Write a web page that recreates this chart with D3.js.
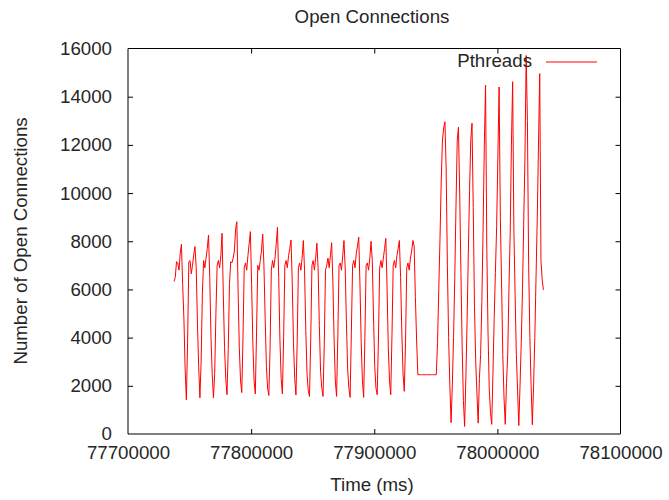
<!DOCTYPE html>
<html>
<head>
<meta charset="utf-8">
<script src="https://cdn.jsdelivr.net/npm/d3@7"></script>
<style>
  html, body { margin: 0; padding: 0; background: #fff; }
  svg text { font-family: "Liberation Sans", Arial, sans-serif; fill: #262626; }
</style>
</head>
<body>
<svg id="chart" width="669" height="500"></svg>
<script>
// Open connections sampled once per second (ms timestamps)
const sampleStart = 77737400;
const sampleStepMs = 1000;
const openConnections = [
  6330, 6500, 7150, 7100, 6800, 7500, 7870, 6200, 4800, 2700, 1420,
  3800, 7150, 7200, 6650, 7000, 7450, 7780, 6900, 4600, 2800, 1500,
  3000, 5800, 7200, 6900, 7300, 7700, 8260, 6500, 4000, 2500, 1500,
  2500, 5000, 7000, 7200, 6900, 7400, 8330, 5800, 3600, 2300, 1630,
  3500, 6200, 7150, 7100, 7300, 7600, 8500, 8810, 6000, 3600, 2200, 1720,
  4000, 6900, 7100, 6800, 7400, 7900, 8400, 6200, 3800, 2200, 1660,
  4200, 7000, 6800, 7200, 7600, 8300, 7000, 4800, 2800, 1900, 1600,
  3600, 6800, 7200, 6900, 7300, 7900, 8580, 6500, 3900, 2300, 1660,
  4000, 7000, 7200, 6900, 7400, 7700, 8050, 6300, 3800, 2300, 1620,
  3800, 6900, 7100, 6800, 7300, 8030, 6800, 4300, 2500, 1800, 1560,
  3900, 7000, 7200, 6800, 7300, 7920, 6900, 4500, 2600, 1900, 1560,
  3700, 6800, 7000, 7300, 6900, 7400, 7940, 6300, 3900, 2200, 1560,
  4000, 7000, 7100, 6800, 7400, 8030, 6900, 4600, 2700, 1900, 1520,
  4200, 7000, 7200, 6900, 7500, 7800, 8170, 6200, 3800, 2200, 1520,
  4000, 7000, 7100, 6800, 7300, 8000, 7200, 4900, 2800, 1900, 1630,
  3900, 6900, 7200, 6900, 7300, 7700, 8120, 6100, 3600, 2200, 1630,
  4100, 7000, 7200, 6900, 7400, 7700, 8030, 6500, 4200, 2500, 1770,
  3800, 6900, 7100, 6800, 7300, 7600, 8030, 7800, 5700, 3900, 2460,
  2460, 2460, 2460, 2460, 2460, 2460, 2460, 2460, 2460, 2460, 2460, 2460, 2460, 2460, 2460,
  3800, 6000, 8100, 10500, 12200, 12700, 12960, 11000, 7000, 4000, 2000, 470,
  2000, 4000, 6500, 9500, 12200, 12730, 10000, 6700, 3600, 1400, 315,
  2300, 4700, 7500, 10100, 12200, 12900, 9400, 5300, 3000, 1700, 450,
  2300, 3300, 5500, 8500, 12000, 14480, 7800, 4200, 1900, 900, 400,
  2500, 4800, 6700, 8600, 11500, 14400, 9000, 6270, 3300, 1500, 400,
  2100, 3300, 6000, 8300, 12000, 14620, 8500, 5800, 3300, 1800, 350,
  2000, 3800, 6000, 8800, 11500, 15710, 13000, 7000, 4000, 2000, 385,
  2000, 4000, 6500, 9000, 12000, 14960, 7200, 6400, 5980
];

const xTicks = [77700000, 77800000, 77900000, 78000000, 78100000];
const yTicks = [0, 2000, 4000, 6000, 8000, 10000, 12000, 14000, 16000];
const seriesName = "Pthreads";
const chartTitle = "Open Connections";
const xLabel = "Time (ms)";
const yLabel = "Number of Open Connections";

const svg = d3.select("#chart");
const plotLeft = 128, plotRight = 620.5, plotTop = 48.5, plotBottom = 434;
const fontSize = 18.7;

const x = d3.scaleLinear().domain([77700000, 78100000]).range([plotLeft, plotRight]);
const y = d3.scaleLinear().domain([0, 16000]).range([plotBottom, plotTop]);

const points = openConnections.map((v, i) => ({ t: sampleStart + i * sampleStepMs, v }));

// frame
const frame = svg.append("g").attr("fill", "none").attr("stroke", "#000").attr("stroke-width", 1);
frame.append("line").attr("x1", plotLeft).attr("x2", plotRight).attr("y1", plotTop).attr("y2", plotTop);
frame.append("line").attr("x1", plotRight).attr("x2", plotRight).attr("y1", plotTop).attr("y2", plotBottom);
frame.append("line").attr("x1", plotLeft).attr("x2", plotLeft).attr("y1", plotTop).attr("y2", plotBottom);
frame.append("line").attr("x1", plotLeft).attr("x2", plotRight).attr("y1", plotBottom).attr("y2", plotBottom);

// axes with inward ticks
const fmt = d3.format("d");
const gx = svg.append("g").attr("transform", `translate(0,${plotBottom})`)
  .call(d3.axisBottom(x).tickValues(xTicks).tickFormat(fmt).tickSize(-5).tickPadding(12));
const gy = svg.append("g").attr("transform", `translate(${plotLeft},0)`)
  .call(d3.axisLeft(y).tickValues(yTicks).tickFormat(fmt).tickSize(-5).tickPadding(16));
const gx2 = svg.append("g").attr("transform", `translate(0,${plotTop})`)
  .call(d3.axisTop(x).tickValues(xTicks).tickFormat("").tickSize(-5));
const gy2 = svg.append("g").attr("transform", `translate(${plotRight},0)`)
  .call(d3.axisRight(y).tickValues(yTicks).tickFormat("").tickSize(-5));
[gx, gy, gx2, gy2].forEach(g => {
  g.select(".domain").remove();
  g.selectAll(".tick line").attr("stroke", "#000");
  g.selectAll("text").attr("font-family", null).style("font-size", fontSize + "px");
});
gx2.selectAll(".tick").filter(d => d === 77700000 || d === 78100000).remove();
gy2.selectAll(".tick").filter(d => d === 0 || d === 16000).remove();
gx.selectAll(".tick").filter(d => d === 77700000 || d === 78100000).select("line").remove();
gy.selectAll(".tick").filter(d => d === 0 || d === 16000).select("line").remove();

// series line
const line = d3.line().x(d => x(d.t)).y(d => y(d.v));
svg.append("path").datum(points)
  .attr("fill", "none").attr("stroke", "#ff0000").attr("stroke-width", 1)
  .attr("d", line);

// legend
svg.append("text").attr("x", 532).attr("y", 67.3).attr("text-anchor", "end")
  .style("font-size", fontSize + "px").text(seriesName);
svg.append("line").attr("x1", 546).attr("x2", 597).attr("y1", 62).attr("y2", 62)
  .attr("stroke", "#ff0000").attr("stroke-width", 1);

// titles
svg.append("text").attr("x", 372).attr("y", 23).attr("text-anchor", "middle")
  .style("font-size", fontSize + "px").text(chartTitle);
svg.append("text").attr("x", 372).attr("y", 491).attr("text-anchor", "middle")
  .style("font-size", fontSize + "px").text(xLabel);
svg.append("text").attr("transform", "translate(27,241) rotate(-90)").attr("text-anchor", "middle")
  .style("font-size", fontSize + "px").text(yLabel);
</script>
</body>
</html>
